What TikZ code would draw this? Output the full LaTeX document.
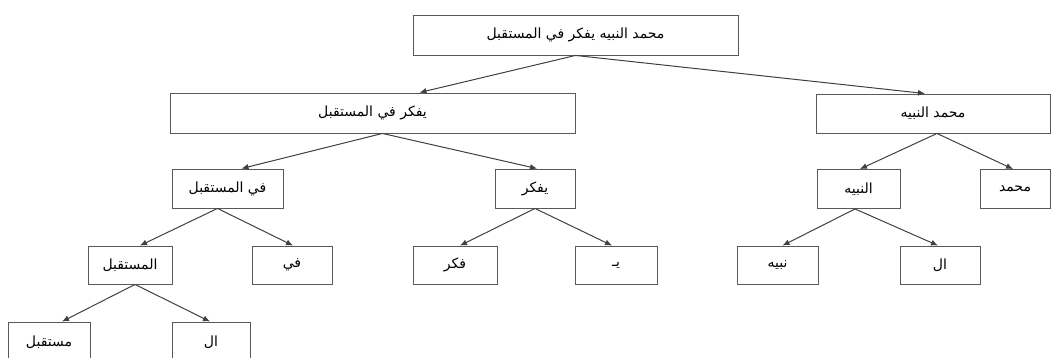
\documentclass[tikz,border=0pt]{standalone}
\usepackage{fontspec}
\newfontfamily\arabicfont[Script=Arabic]{DejaVu Sans}
\TeXXeTstate=1
\usetikzlibrary{arrows.meta}
\begin{document}
\begin{tikzpicture}[x=1pt,y=-1pt,
  box/.style={draw=black!65, line width=0.9pt, rectangle, inner sep=0pt,
    minimum height=39pt, font=\arabicfont\fontsize{14}{16}\selectfont},
  link/.style={draw=black!75, line width=1pt, -{Latex[length=7pt,width=6pt]}}]
\useasboundingbox (0,0) rectangle (1053,358);
\clip (0,0) rectangle (1053,358);
% level 0
\node[box, minimum width=325pt, minimum height=40pt] (root) at (575.5,35) {\beginR محمد النبيه يفكر في المستقبل\endR};
% level 1
\node[box, minimum width=405pt, minimum height=40pt] (l1l) at (372.5,113) {\beginR يفكر في المستقبل\endR};
\node[box, minimum width=234pt] (l1r) at (933,113.5) {\beginR محمد النبيه\endR};
% level 2
\node[box, minimum width=111pt] (fi_mustaqbal) at (227.5,188.5) {\beginR في المستقبل\endR};
\node[box, minimum width=80pt] (yufakkir) at (535,188.5) {\beginR يفكر\endR};
\node[box, minimum width=83pt] (annabih) at (858.5,189) {\beginR النبيه\endR};
\node[box, minimum width=70pt] (muhammad) at (1015,189) {\beginR محمد\endR};
% level 3
\node[box, minimum width=84pt, minimum height=38pt] (almustaqbal) at (130,265) {\beginR المستقبل\endR};
\node[box, minimum width=80pt, minimum height=38pt] (fi) at (292,265) {\beginR في\endR};
\node[box, minimum width=84pt, minimum height=38pt] (fakkar) at (455,265) {\beginR فكر\endR};
\node[box, minimum width=82pt, minimum height=38pt] (ya) at (616,265) {\beginR يـ\endR};
\node[box, minimum width=81pt, minimum height=38pt] (nabih) at (777.5,265) {\beginR نبيه\endR};
\node[box, minimum width=80pt, minimum height=38pt] (al1) at (940,265) {\beginR ال\endR};
% level 4
\node[box, minimum width=82pt, minimum height=40pt] (mustaqbal) at (49,342) {\beginR مستقبل\endR};
\node[box, minimum width=78pt, minimum height=40pt] (al2) at (211,342) {\beginR ال\endR};
% connectors
\draw[link] (root.south) -- ([xshift=47pt]l1l.north);
\draw[link] (root.south) -- ([xshift=-8pt]l1r.north);
\draw[link] ([xshift=10pt]l1l.south) -- ([xshift=14pt]fi_mustaqbal.north);
\draw[link] ([xshift=10pt]l1l.south) -- ([xshift=2pt]yufakkir.north);
\draw[link] ([xshift=4pt]l1r.south) -- ([xshift=1.5pt]annabih.north);
\draw[link] ([xshift=4pt]l1r.south) -- ([xshift=-2pt]muhammad.north);
\draw[link] ([xshift=-10pt]fi_mustaqbal.south) -- ([xshift=10pt]almustaqbal.north);
\draw[link] ([xshift=-10pt]fi_mustaqbal.south) -- ([xshift=1pt]fi.north);
\draw[link] (yufakkir.south) -- ([xshift=5pt]fakkar.north);
\draw[link] (yufakkir.south) -- ([xshift=-4pt]ya.north);
\draw[link] ([xshift=-3.5pt]annabih.south) -- ([xshift=5pt]nabih.north);
\draw[link] ([xshift=-3.5pt]annabih.south) -- ([xshift=-2pt]al1.north);
\draw[link] ([xshift=5pt]almustaqbal.south) -- ([xshift=13pt]mustaqbal.north);
\draw[link] ([xshift=5pt]almustaqbal.south) -- ([xshift=-1pt]al2.north);
\end{tikzpicture}
\end{document}
